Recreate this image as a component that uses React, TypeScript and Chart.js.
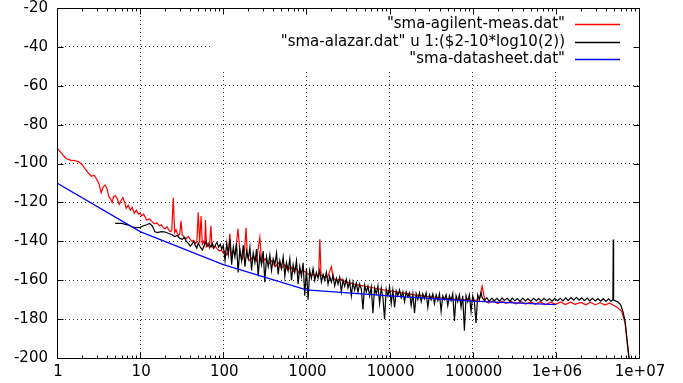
import React, { useEffect, useRef } from "react";
import { Chart, registerables } from "chart.js";

Chart.register(...registerables);

// ---------- data (frequency in Hz, level in dB) ----------
const agilentMeas: [number, number][] = [
  [1, -92], [1.1, -94], [1.2, -96], [1.3, -97.5], [1.4, -98], [1.5, -98.5], [1.6, -98.3], [1.8, -99],
  [2.0, -100.5], [2.2, -103], [2.4, -105], [2.6, -106.5], [2.8, -106], [3.0, -108], [3.2, -110.5],
  [3.4, -115], [3.6, -112], [3.8, -111], [4.0, -113], [4.2, -117], [4.4, -118], [4.6, -120], [4.8, -117],
  [5.0, -116.5], [5.3, -118], [5.6, -121], [5.9, -119], [6.2, -117.5], [6.5, -120], [6.8, -123],
  [7.2, -121.5], [7.6, -124], [8.0, -122.5], [8.5, -125.5], [9.0, -124], [9.5, -126], [10, -125.5],
  [10.5, -127], [11, -126], [12, -129], [13, -128.5], [14, -130], [15, -131], [16, -130.5], [17, -132],
  [18, -131.5], [19, -133], [20, -133.5], [21, -132.5], [22, -134], [23, -135], [24, -134.5],
  [25, -117.5], [26, -135.5], [27, -134], [28, -136], [29, -137], [30, -136], [31, -129.5], [32, -136.5],
  [34, -138], [36, -138.5], [38, -137.5], [40, -139], [42, -140], [44, -139.5], [46, -141], [48, -140.5],
  [50, -125], [52, -141], [54, -127], [56, -141.5], [58, -140], [60, -142], [61, -129], [63, -142.5],
  [66, -141], [68, -143], [71, -132], [73, -142], [76, -143.5], [80, -142.5], [85, -144], [90, -145],
  [95, -144.5], [100, -146], [105, -145], [110, -147], [115, -146], [120, -136], [125, -147.5],
  [130, -145], [140, -146.5], [150, -133.5], [160, -147], [170, -149], [180, -145], [188, -133],
  [195, -148], [210, -150], [230, -147.5], [250, -150], [275, -138], [290, -151], [320, -149],
  [350, -152], [380, -150], [420, -153], [460, -151], [500, -154], [550, -152], [600, -155], [650, -153],
  [700, -155.5], [760, -154], [820, -156.5], [900, -155], [1000, -156], [1100, -157.5], [1200, -157],
  [1300, -157.5], [1400, -158], [1450, -139], [1500, -157.5], [1600, -158], [1800, -158.5], [2000, -153],
  [2100, -159], [2300, -160], [2600, -159.5], [3000, -161], [3400, -161.5], [3800, -162], [4300, -162.5],
  [5000, -163], [5700, -163.5], [6500, -164], [7500, -164.5], [8500, -165], [10000, -165.5],
  [12000, -166], [14000, -166.5], [17000, -167], [20000, -167.5], [25000, -168], [30000, -168.5],
  [40000, -169], [50000, -169.5], [65000, -170], [80000, -170], [100000, -170.5], [120000, -170],
  [130000, -163], [140000, -170.5], [155000, -171.8], [175000, -170.6], [200000, -172], [225000, -170.8],
  [250000, -171.9], [290000, -170.9], [330000, -172.2], [380000, -171], [430000, -172.3], [500000, -171.2],
  [570000, -172.4], [650000, -171.1], [750000, -172.6], [860000, -171.3], [1000000, -172.4],
  [1150000, -171.2], [1300000, -172.5], [1500000, -171.3], [1700000, -172.4], [2000000, -171.4],
  [2300000, -172.6], [2600000, -171.3], [3000000, -172.7], [3400000, -171.5], [3900000, -172.8],
  [4400000, -171.8], [5000000, -173], [5500000, -174], [6200000, -176], [6800000, -182],
  [7200000, -192], [7600000, -201],
];

const alazar: [number, number][] = [
  [5, -130.8], [6, -130.8], [7, -131.5], [8, -132.5], [9, -133], [10, -132.8], [11, -132], [12, -131.5],
  [13, -130.8], [14, -132], [15, -135], [16, -135.5], [18, -135], [20, -135.2], [22, -136], [24, -136.5],
  [26, -137.5], [28, -137], [30, -138.5], [32, -139], [34, -138], [36, -140], [38, -141], [40, -142.5],
  [42, -141.5], [44, -140], [46, -142], [48, -143.5], [50, -141], [53, -143], [56, -144.5], [59, -142],
  [62, -140], [65, -142.5], [68, -141.5], [71, -143], [74, -141], [77, -143.5], [80, -142], [84, -140.5],
  [88, -143], [92, -141.5], [96, -144],
  [100, -142], [105, -150], [110, -141], [115, -147], [120, -139], [126, -152], [132, -143], [138, -148],
  [144, -141], [151, -156], [158, -144], [166, -150], [174, -142], [182, -153], [191, -145], [200, -149],
  [209, -143], [219, -155], [229, -146], [240, -151], [251, -144], [263, -158], [275, -147], [288, -152],
  [302, -145], [316, -161], [331, -148], [347, -153], [363, -147], [380, -155], [398, -149], [417, -152],
  [437, -146], [457, -157], [479, -150], [501, -154], [525, -148], [550, -158], [575, -151], [603, -155],
  [631, -149], [661, -160], [692, -152], [724, -156], [759, -150], [794, -162], [832, -153], [871, -158],
  [912, -151], [955, -168],
  [1000, -154], [1047, -170], [1096, -155], [1148, -159], [1202, -154], [1259, -160], [1318, -156],
  [1380, -159], [1445, -155], [1514, -161], [1585, -157], [1660, -160], [1738, -156], [1820, -162],
  [1905, -158], [1995, -161], [2089, -157.5], [2188, -163], [2291, -159], [2399, -162], [2512, -158.5],
  [2630, -166], [2754, -160], [2884, -163], [3020, -159.5], [3162, -164], [3311, -160.5], [3467, -168],
  [3631, -161], [3802, -165], [3981, -161.5], [4169, -166], [4365, -162], [4571, -164.5], [4786, -175],
  [5012, -162.5], [5248, -166], [5495, -163], [5754, -168], [6026, -163.5], [6310, -177], [6607, -164],
  [6918, -167], [7244, -163], [7586, -172], [7943, -164], [8318, -169], [8710, -180], [9120, -164.5],
  [9550, -168],
  [10000, -163.5], [10470, -172], [10960, -165], [11480, -174], [12020, -165.5], [12590, -168],
  [13180, -165], [13800, -169], [14450, -166], [15140, -171], [15850, -166], [16600, -168.5],
  [17380, -166.5], [18200, -173], [19050, -167], [19950, -177], [20890, -167], [21880, -170],
  [22910, -166.5], [23990, -171], [25120, -167], [26300, -169.5], [27540, -166.5], [28840, -174],
  [30200, -167.5], [31620, -170], [33110, -167], [34670, -172], [36310, -167.5], [38020, -170.5],
  [39810, -167], [41690, -176], [43650, -168], [45710, -170], [47860, -167.5], [50120, -173],
  [52480, -168], [54950, -170.5], [57540, -167], [60260, -181], [63100, -168], [66070, -171],
  [69180, -167.5], [72440, -174], [75860, -168], [79430, -186], [83180, -168], [87100, -171],
  [91200, -167.5], [95500, -176], [100000, -168], [104700, -171], [109600, -182], [114800, -167.5],
  [120200, -170], [125900, -166.5], [130000, -169],
  [138000, -170.5], [148000, -169], [158000, -170.8], [170000, -169.2], [182000, -170.6], [195000, -169.3],
  [210000, -170.7], [225000, -169.1], [240000, -170.4], [260000, -169.3], [280000, -170.8], [300000, -169.2],
  [320000, -170.5], [345000, -169.4], [370000, -170.9], [400000, -169.2], [430000, -170.6], [460000, -169.5],
  [500000, -170.8], [540000, -169.3], [580000, -170.5], [620000, -169.4], [670000, -170.7], [720000, -169.3],
  [780000, -170.6], [840000, -169.5], [900000, -170.8], [970000, -169.4], [1050000, -170.5],
  [1130000, -169.3], [1220000, -170.6], [1310000, -169.1], [1410000, -170.4], [1520000, -168.9],
  [1640000, -170.3], [1770000, -168.8], [1900000, -170.2], [2050000, -169], [2200000, -170.5],
  [2380000, -169.2], [2560000, -170.6], [2760000, -169.3], [2980000, -170.7], [3200000, -169.4],
  [3450000, -170.8], [3720000, -169.5], [4000000, -170.9], [4300000, -169.6], [4600000, -170.8],
  [4850000, -170], [4900000, -139], [4950000, -170.2], [5200000, -170.6], [5600000, -171.2],
  [6000000, -172.5], [6400000, -176], [6800000, -181], [7200000, -191], [7600000, -200],
];

const datasheet: [number, number][] = [
  [1, -110], [10, -135], [100, -152], [1000, -165], [10000, -168], [100000, -170.8], [1000000, -172.5],
];

const seriesNames = [
  '"sma-agilent-meas.dat"',
  '"sma-alazar.dat" u 1:($2-10*log10(2))',
  '"sma-datasheet.dat"',
];
const seriesColors = ["#ff0000", "#000000", "#0000ff"];

const xTickValues = [1, 10, 100, 1000, 10000, 100000, 1000000, 10000000];
const xTickLabels = ["1", "10", "100", "1000", "10000", "100000", "1e+06", "1e+07"];
const yTickValues = [-20, -40, -60, -80, -100, -120, -140, -160, -180, -200];
const yTickLabels = ["-20", "-40", "-60", "-80", "-100", "-120", "-140", "-160", "-180", "-200"];

const FONT = '"DejaVu Sans", sans-serif';

const gnuFrame = {
  id: "gnuFrame",
  beforeDatasetsDraw(chart: any) {
    const { ctx, chartArea: a } = chart;
    ctx.save();
    ctx.fillStyle = "#ffffff";
    ctx.fillRect(212, a.top + 1, a.right - 212 - 1, 61);
    ctx.restore();
  },
  afterDatasetsDraw(chart: any) {
    const { ctx, chartArea: a, scales } = chart;
    const L = Math.round(a.left) + 0.5;
    const R = Math.round(a.right) + 0.5;
    const T = Math.round(a.top) + 0.5;
    const B = Math.round(a.bottom) + 0.5;
    ctx.save();
    ctx.strokeStyle = "#000000";
    ctx.lineWidth = 1;
    ctx.setLineDash([]);
    ctx.beginPath();
    ctx.rect(L, T, R - L, B - T);
    for (let d = 0; d < xTickValues.length; d++) {
      const base = xTickValues[d];
      for (let m = 1; m <= 9; m++) {
        const v = base * m;
        if (v > xTickValues[xTickValues.length - 1]) break;
        const px = Math.round(scales.x.getPixelForValue(v)) + 0.5;
        const len = m === 1 ? 6 : 3;
        ctx.moveTo(px, B);
        ctx.lineTo(px, B - len);
        ctx.moveTo(px, T);
        ctx.lineTo(px, T + len);
      }
    }
    for (const v of yTickValues) {
      const py = Math.round(scales.y.getPixelForValue(v)) + 0.5;
      ctx.moveTo(L, py);
      ctx.lineTo(L + 6, py);
      ctx.moveTo(R, py);
      ctx.lineTo(R - 6, py);
    }
    ctx.stroke();

    // tick labels
    ctx.fillStyle = "#000000";
    ctx.font = `15px ${FONT}`;
    ctx.textBaseline = "middle";
    ctx.textAlign = "right";
    yTickValues.forEach((v, i) => {
      ctx.fillText(yTickLabels[i], a.left - 9, scales.y.getPixelForValue(v));
    });
    ctx.textAlign = "center";
    xTickValues.forEach((v, i) => {
      ctx.fillText(xTickLabels[i], scales.x.getPixelForValue(v) + 1, a.bottom + 14);
    });

    // key
    const rows = [24, 42, 59];
    ctx.textAlign = "right";
    for (let i = 0; i < seriesNames.length; i++) {
      ctx.fillStyle = "#000000";
      ctx.fillText(seriesNames[i], 565, rows[i]);
      ctx.strokeStyle = seriesColors[i];
      ctx.lineWidth = 1.4;
      ctx.beginPath();
      ctx.moveTo(575, rows[i] + 0.5);
      ctx.lineTo(620, rows[i] + 0.5);
      ctx.stroke();
    }
    ctx.restore();
  },
};

export default function App() {
  const ref = useRef<HTMLCanvasElement | null>(null);
  useEffect(() => {
    if (!ref.current) return;
    const toXY = (arr: [number, number][]) => arr.map(([x, y]) => ({ x, y }));
    const chart = new Chart(ref.current, {
      type: "line",
      data: {
        datasets: [
          { label: seriesNames[0], data: toXY(agilentMeas), borderColor: seriesColors[0], borderWidth: 1.2, pointRadius: 0, order: 3 },
          { label: seriesNames[1], data: toXY(alazar), borderColor: seriesColors[1], borderWidth: 1.2, pointRadius: 0, order: 2 },
          { label: seriesNames[2], data: toXY(datasheet), borderColor: seriesColors[2], borderWidth: 1.2, pointRadius: 0, order: 1 },
        ],
      },
      options: {
        animation: false,
        responsive: false,
        devicePixelRatio: 1,
        layout: { padding: { left: 0, right: 44, top: 8, bottom: 0 } },
        plugins: { legend: { display: false }, tooltip: { enabled: false } },
        elements: { line: { tension: 0 } },
        scales: {
          x: {
            type: "logarithmic",
            min: 1,
            max: 10000000,
            afterBuildTicks: (scale: any) => {
              scale.ticks = xTickValues.map((v) => ({ value: v, major: true }));
            },
            afterFit: (scale: any) => {
              scale.height = 25;
            },
            ticks: { display: false },
            grid: { color: "rgba(0,0,0,0.8)", lineWidth: 1, drawTicks: false },
            border: { display: false, dash: [1, 3] },
          },
          y: {
            type: "linear",
            min: -200,
            max: -20,
            afterBuildTicks: (scale: any) => {
              scale.ticks = yTickValues.map((v) => ({ value: v }));
            },
            afterFit: (scale: any) => {
              scale.width = 57;
            },
            ticks: { display: false },
            grid: { color: "rgba(0,0,0,0.8)", lineWidth: 1, drawTicks: false },
            border: { display: false, dash: [1, 3] },
          },
        },
      },
      plugins: [gnuFrame],
    });
    return () => chart.destroy();
  }, []);
  return (
    <div style={{ position: "absolute", left: 0, top: 0, width: 683, height: 383, background: "#fff" }}>
      <canvas ref={ref} width={683} height={383} style={{ width: 683, height: 383 }} />
    </div>
  );
}
